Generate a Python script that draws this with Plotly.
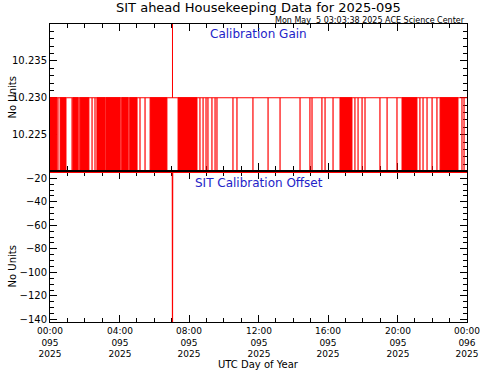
import plotly.graph_objects as go

# ---------------- data (hours of day 2025-095, UTC) ----------------
gain_base = 10.2300
gain_low = 10.2202
gain_spike_time = 7.05
gain_spike_value = 10.2400

# hours where gain dropped briefly (single vertical lines)
gain_drop_times = [0.46, 1.27, 1.67, 2.42, 2.59, 4.09, 4.55, 5.18, 5.47,
                   8.63, 8.81, 8.98, 9.09, 9.32, 9.50, 9.61, 10.53, 10.76,
                   11.68, 12.55, 13.24, 14.39, 14.96, 15.08, 15.65, 15.83,
                   16.29, 17.55, 17.73, 17.96, 18.13, 18.99, 19.40, 19.97,
                   21.29, 21.47, 21.70, 21.99, 22.27, 23.71, 23.83]

# intervals (start, end hours) of rapid toggling between the two levels
gain_toggle_start = [0.00, 0.58, 1.32, 1.73, 2.70, 3.22, 4.14, 4.60, 5.76,
                     7.37, 16.69, 20.26, 22.45]
gain_toggle_end = [0.40, 0.92, 1.61, 2.24, 3.17, 4.03, 4.49, 5.01, 6.73,
                   8.46, 17.38, 21.12, 23.48]

offset_times = [0.0, 7.04, 7.05, 7.06, 24.0]
offset_values = [-14.95, -14.95, -142.2, -14.95, -14.95]

x_tick_hours = [0, 4, 8, 12, 16, 20, 24]
x_tick_time = ["00:00", "04:00", "08:00", "12:00", "16:00", "20:00", "00:00"]
x_tick_doy = ["095", "095", "095", "095", "095", "095", "096"]
x_tick_year = ["2025"] * 7

gain_ticks = [10.225, 10.230, 10.235]
offset_ticks = [-140, -120, -100, -80, -60, -40, -20]

# ---------------- figure ----------------
FONT = "DejaVu Sans"
RED = "#ff0000"
BLUE = "#2323c8"

fig = go.Figure()

# baseline of the gain series
fig.add_trace(go.Scatter(x=[0, gain_spike_time, gain_spike_time, gain_spike_time, 24],
                         y=[gain_base, gain_base, gain_spike_value, gain_base, gain_base],
                         mode="lines", line=dict(color=RED, width=1),
                         xaxis="x", yaxis="y", hoverinfo="skip"))

# brief drops
dx, dy = [], []
for t in gain_drop_times:
    dx += [t, t, None]
    dy += [gain_base, gain_low, None]
fig.add_trace(go.Scatter(x=dx, y=dy, mode="lines", line=dict(color=RED, width=1.2),
                         xaxis="x", yaxis="y", hoverinfo="skip"))

# rapid toggling regions
for a, b in zip(gain_toggle_start, gain_toggle_end):
    fig.add_trace(go.Scatter(x=[a, b, b, a, a], y=[gain_low, gain_low, gain_base, gain_base, gain_low],
                             mode="lines", fill="toself", fillcolor=RED,
                             line=dict(color=RED, width=1),
                             xaxis="x", yaxis="y", hoverinfo="skip"))

# offset series
fig.add_trace(go.Scatter(x=offset_times, y=offset_values, mode="lines",
                         line=dict(color=RED, width=1.2),
                         xaxis="x2", yaxis="y2", hoverinfo="skip"))

axis_common = dict(showline=True, linecolor="black", linewidth=1, mirror="ticks",
                   ticks="inside", ticklen=7, tickcolor="black", tickwidth=1,
                   showgrid=False, zeroline=False, layer="below traces",
                   automargin=False,
                   tickfont=dict(family=FONT, size=10, color="black"))

fig.update_layout(
    template="none",
    width=481, height=371,
    margin=dict(l=50, r=14, t=24, b=49, pad=0),
    paper_bgcolor="white", plot_bgcolor="white",
    showlegend=False,
    xaxis=dict(domain=[0, 1], anchor="y", range=[0, 24], tickvals=x_tick_hours,
               showticklabels=False,
               minor=dict(ticks="inside", ticklen=4, dtick=1, tickcolor="black"),
               **axis_common),
    yaxis=dict(domain=[0.510, 1], anchor="x", range=[gain_low, gain_spike_value],
               tickvals=gain_ticks, ticktext=[f"{v:.3f}" for v in gain_ticks],
               minor=dict(ticks="inside", ticklen=4, dtick=0.001, tick0=10.22, tickcolor="black"),
               **axis_common),
    xaxis2=dict(domain=[0, 1], anchor="y2", range=[0, 24], tickvals=x_tick_hours,
                showticklabels=False,
                minor=dict(ticks="inside", ticklen=4, dtick=1, tickcolor="black"),
                **axis_common),
    yaxis2=dict(domain=[0, 0.503], anchor="x2", range=[-142.2, -14.7],
                tickvals=offset_ticks,
                minor=dict(ticks="inside", ticklen=4, dtick=5, tickcolor="black"),
                **axis_common),
)

ann = []
ann.append(dict(text="SIT ahead Housekeeping Data for 2025-095", xref="paper", yref="paper",
                x=0.5, y=1.057, xanchor="center", yanchor="middle", showarrow=False,
                font=dict(family=FONT, size=13, color="black")))
ann.append(dict(text="Mon May  5 03:03:38 2025 ACE Science Center", xref="paper", yref="paper",
                x=1.0, y=1.013, xanchor="right", yanchor="middle", showarrow=False,
                font=dict(family=FONT, size=8, color="black")))
ann.append(dict(text="Calibration Gain", xref="paper", yref="paper",
                x=0.5, y=0.968, xanchor="center", yanchor="middle", showarrow=False,
                font=dict(family=FONT, size=12, color=BLUE)))
ann.append(dict(text="SIT Calibration Offset", xref="paper", yref="paper",
                x=0.5, y=0.466, xanchor="center", yanchor="middle", showarrow=False,
                font=dict(family=FONT, size=12, color=BLUE)))
ann.append(dict(text="No Units", xref="paper", yref="paper", textangle=-90,
                x=-0.09, y=(322 - 97) / 298, xanchor="center", yanchor="middle", showarrow=False,
                font=dict(family=FONT, size=10, color="black")))
ann.append(dict(text="No Units", xref="paper", yref="paper", textangle=-90,
                x=-0.09, y=(322 - 266) / 298, xanchor="center", yanchor="middle", showarrow=False,
                font=dict(family=FONT, size=10, color="black")))
ann.append(dict(text="UTC Day of Year", xref="paper", yref="paper",
                x=0.5, y=(322 - 364.5) / 298, xanchor="center", yanchor="middle", showarrow=False,
                font=dict(family=FONT, size=10, color="black")))
for h, a, b, c in zip(x_tick_hours, x_tick_time, x_tick_doy, x_tick_year):
    ann.append(dict(text=f"{a}<br>{b}<br>{c}", xref="x2", yref="paper", x=h,
                    y=(322 - 342.5) / 298, xanchor="center", yanchor="middle", showarrow=False,
                    font=dict(family=FONT, size=9, color="black")))
fig.update_layout(annotations=ann)

fig.write_html("out.html", config={"displayModeBar": False},
               post_script="document.body.style.margin='0px';")
